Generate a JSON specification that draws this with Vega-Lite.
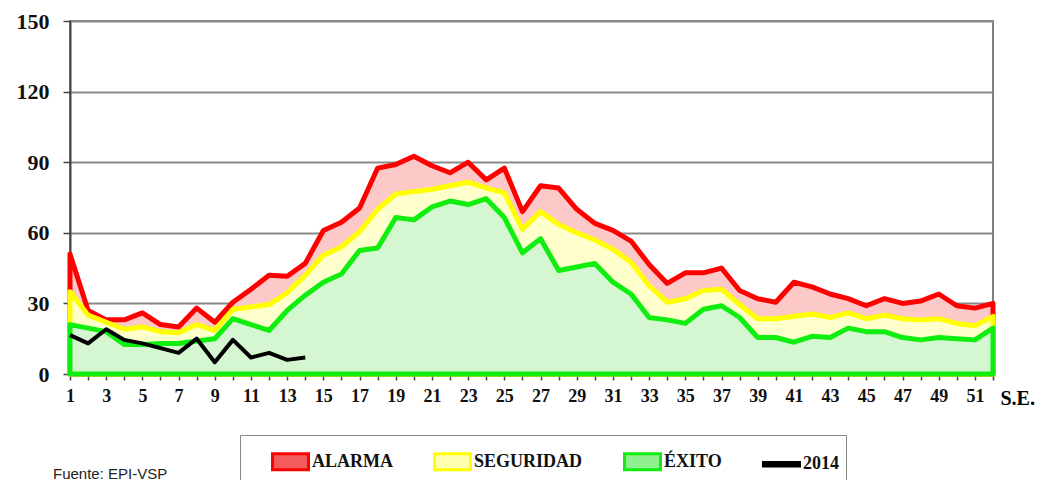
{
  "$schema": "https://vega.github.io/schema/vega-lite/v6.json",
  "width": 923,
  "height": 353,
  "autosize": {"type": "none"},
  "padding": {"left": 70, "top": 21, "right": 52, "bottom": 106},
  "background": "white",
  "config": {
    "view": {"stroke": "#808080", "strokeWidth": 2},
    "font": "Liberation Serif",
    "axisX": {"titleFontWeight": "bold", "titleFont": "Liberation Serif"}
  },
  "title": {
    "text": "Fuente: EPI-VSP",
    "orient": "bottom",
    "anchor": "start",
    "frame": "group",
    "font": "Liberation Sans",
    "fontSize": 15,
    "fontWeight": "normal",
    "color": "#222",
    "dx": -17,
    "offset": -17
  },
  "data": {
    "values": [
      {"s":"ALARMA","w":1,"v":51},{"s":"ALARMA","w":2,"v":27},{"s":"ALARMA","w":3,"v":23},{"s":"ALARMA","w":4,"v":23},{"s":"ALARMA","w":5,"v":26},{"s":"ALARMA","w":6,"v":21},{"s":"ALARMA","w":7,"v":20},{"s":"ALARMA","w":8,"v":28},{"s":"ALARMA","w":9,"v":22},{"s":"ALARMA","w":10,"v":30.5},
      {"s":"ALARMA","w":11,"v":36},{"s":"ALARMA","w":12,"v":42},{"s":"ALARMA","w":13,"v":41.5},{"s":"ALARMA","w":14,"v":47},{"s":"ALARMA","w":15,"v":61},{"s":"ALARMA","w":16,"v":64.5},{"s":"ALARMA","w":17,"v":70.5},{"s":"ALARMA","w":18,"v":87.5},{"s":"ALARMA","w":19,"v":89},{"s":"ALARMA","w":20,"v":92.5},
      {"s":"ALARMA","w":21,"v":88.5},{"s":"ALARMA","w":22,"v":85.5},{"s":"ALARMA","w":23,"v":90},{"s":"ALARMA","w":24,"v":82.5},{"s":"ALARMA","w":25,"v":87.5},{"s":"ALARMA","w":26,"v":69},{"s":"ALARMA","w":27,"v":80},{"s":"ALARMA","w":28,"v":79},{"s":"ALARMA","w":29,"v":70},{"s":"ALARMA","w":30,"v":64},
      {"s":"ALARMA","w":31,"v":61},{"s":"ALARMA","w":32,"v":56.5},{"s":"ALARMA","w":33,"v":46.5},{"s":"ALARMA","w":34,"v":38.5},{"s":"ALARMA","w":35,"v":43},{"s":"ALARMA","w":36,"v":43},{"s":"ALARMA","w":37,"v":45},{"s":"ALARMA","w":38,"v":35.5},{"s":"ALARMA","w":39,"v":32},{"s":"ALARMA","w":40,"v":30.5},
      {"s":"ALARMA","w":41,"v":39},{"s":"ALARMA","w":42,"v":37},{"s":"ALARMA","w":43,"v":34},{"s":"ALARMA","w":44,"v":32},{"s":"ALARMA","w":45,"v":29},{"s":"ALARMA","w":46,"v":32},{"s":"ALARMA","w":47,"v":30},{"s":"ALARMA","w":48,"v":31},{"s":"ALARMA","w":49,"v":34},{"s":"ALARMA","w":50,"v":29},
      {"s":"ALARMA","w":51,"v":28},{"s":"ALARMA","w":52,"v":30},
      {"s":"SEGURIDAD","w":1,"v":35},{"s":"SEGURIDAD","w":2,"v":25},{"s":"SEGURIDAD","w":3,"v":22},{"s":"SEGURIDAD","w":4,"v":19},{"s":"SEGURIDAD","w":5,"v":20},{"s":"SEGURIDAD","w":6,"v":18},{"s":"SEGURIDAD","w":7,"v":17.5},{"s":"SEGURIDAD","w":8,"v":21},{"s":"SEGURIDAD","w":9,"v":18.5},{"s":"SEGURIDAD","w":10,"v":27.5},
      {"s":"SEGURIDAD","w":11,"v":28.5},{"s":"SEGURIDAD","w":12,"v":29.5},{"s":"SEGURIDAD","w":13,"v":34.5},{"s":"SEGURIDAD","w":14,"v":42},{"s":"SEGURIDAD","w":15,"v":50.5},{"s":"SEGURIDAD","w":16,"v":54},{"s":"SEGURIDAD","w":17,"v":60.5},{"s":"SEGURIDAD","w":18,"v":70},{"s":"SEGURIDAD","w":19,"v":76.5},{"s":"SEGURIDAD","w":20,"v":77.5},
      {"s":"SEGURIDAD","w":21,"v":78.5},{"s":"SEGURIDAD","w":22,"v":80},{"s":"SEGURIDAD","w":23,"v":81.5},{"s":"SEGURIDAD","w":24,"v":79},{"s":"SEGURIDAD","w":25,"v":77},{"s":"SEGURIDAD","w":26,"v":61.5},{"s":"SEGURIDAD","w":27,"v":69},{"s":"SEGURIDAD","w":28,"v":63.5},{"s":"SEGURIDAD","w":29,"v":60},{"s":"SEGURIDAD","w":30,"v":57},
      {"s":"SEGURIDAD","w":31,"v":53},{"s":"SEGURIDAD","w":32,"v":47.5},{"s":"SEGURIDAD","w":33,"v":37.5},{"s":"SEGURIDAD","w":34,"v":30.5},{"s":"SEGURIDAD","w":35,"v":32},{"s":"SEGURIDAD","w":36,"v":35.5},{"s":"SEGURIDAD","w":37,"v":36},{"s":"SEGURIDAD","w":38,"v":29.5},{"s":"SEGURIDAD","w":39,"v":23.5},{"s":"SEGURIDAD","w":40,"v":23.5},
      {"s":"SEGURIDAD","w":41,"v":24.5},{"s":"SEGURIDAD","w":42,"v":25.5},{"s":"SEGURIDAD","w":43,"v":24},{"s":"SEGURIDAD","w":44,"v":26},{"s":"SEGURIDAD","w":45,"v":23.5},{"s":"SEGURIDAD","w":46,"v":25},{"s":"SEGURIDAD","w":47,"v":23.5},{"s":"SEGURIDAD","w":48,"v":23},{"s":"SEGURIDAD","w":49,"v":23.5},{"s":"SEGURIDAD","w":50,"v":21.5},
      {"s":"SEGURIDAD","w":51,"v":20.5},{"s":"SEGURIDAD","w":52,"v":24.5},
      {"s":"ÉXITO","w":1,"v":21},{"s":"ÉXITO","w":2,"v":19.5},{"s":"ÉXITO","w":3,"v":18},{"s":"ÉXITO","w":4,"v":12.5},{"s":"ÉXITO","w":5,"v":12.5},{"s":"ÉXITO","w":6,"v":13},{"s":"ÉXITO","w":7,"v":13},{"s":"ÉXITO","w":8,"v":14},{"s":"ÉXITO","w":9,"v":15},{"s":"ÉXITO","w":10,"v":23.5},
      {"s":"ÉXITO","w":11,"v":21},{"s":"ÉXITO","w":12,"v":18.5},{"s":"ÉXITO","w":13,"v":27},{"s":"ÉXITO","w":14,"v":33.5},{"s":"ÉXITO","w":15,"v":39},{"s":"ÉXITO","w":16,"v":42.5},{"s":"ÉXITO","w":17,"v":52.5},{"s":"ÉXITO","w":18,"v":53.5},{"s":"ÉXITO","w":19,"v":66.5},{"s":"ÉXITO","w":20,"v":65.5},
      {"s":"ÉXITO","w":21,"v":71},{"s":"ÉXITO","w":22,"v":73.5},{"s":"ÉXITO","w":23,"v":72},{"s":"ÉXITO","w":24,"v":74.5},{"s":"ÉXITO","w":25,"v":66.5},{"s":"ÉXITO","w":26,"v":51.5},{"s":"ÉXITO","w":27,"v":57.5},{"s":"ÉXITO","w":28,"v":44},{"s":"ÉXITO","w":29,"v":45.5},{"s":"ÉXITO","w":30,"v":47},
      {"s":"ÉXITO","w":31,"v":39},{"s":"ÉXITO","w":32,"v":34},{"s":"ÉXITO","w":33,"v":24},{"s":"ÉXITO","w":34,"v":23},{"s":"ÉXITO","w":35,"v":21.5},{"s":"ÉXITO","w":36,"v":27.5},{"s":"ÉXITO","w":37,"v":29},{"s":"ÉXITO","w":38,"v":24},{"s":"ÉXITO","w":39,"v":15.5},{"s":"ÉXITO","w":40,"v":15.5},
      {"s":"ÉXITO","w":41,"v":13.5},{"s":"ÉXITO","w":42,"v":16},{"s":"ÉXITO","w":43,"v":15.5},{"s":"ÉXITO","w":44,"v":19.5},{"s":"ÉXITO","w":45,"v":18},{"s":"ÉXITO","w":46,"v":18},{"s":"ÉXITO","w":47,"v":15.5},{"s":"ÉXITO","w":48,"v":14.5},{"s":"ÉXITO","w":49,"v":15.5},{"s":"ÉXITO","w":50,"v":15},
      {"s":"ÉXITO","w":51,"v":14.5},{"s":"ÉXITO","w":52,"v":19.5},
      {"s":"2014","w":1,"v":16.5},{"s":"2014","w":2,"v":13},{"s":"2014","w":3,"v":19},{"s":"2014","w":4,"v":14.5},{"s":"2014","w":5,"v":13},{"s":"2014","w":6,"v":11},{"s":"2014","w":7,"v":9},{"s":"2014","w":8,"v":15},{"s":"2014","w":9,"v":5},{"s":"2014","w":10,"v":14.5},
      {"s":"2014","w":11,"v":7},{"s":"2014","w":12,"v":9},{"s":"2014","w":13,"v":6},{"s":"2014","w":14,"v":7}
    ]
  },
  "encoding": {
    "x": {
      "field": "w",
      "type": "quantitative",
      "scale": {"domain": [1, 52], "nice": false, "zero": false},
      "axis": {
        "values": [1,2,3,4,5,6,7,8,9,10,11,12,13,14,15,16,17,18,19,20,21,22,23,24,25,26,27,28,29,30,31,32,33,34,35,36,37,38,39,40,41,42,43,44,45,46,47,48,49,50,51,52],
        "labelExpr": "datum.value % 2 == 1 ? datum.label : ''",
        "labelOverlap": false,
        "labelFlush": false,
        "labelFont": "Liberation Serif",
        "labelFontSize": 18,
        "labelFontWeight": "bold",
        "labelColor": "#111",
        "labelPadding": 7,
        "tickSize": 6,
        "tickColor": "#444",
        "tickWidth": 1.5,
        "domain": false,
        "grid": false,
        "title": "S.E.",
        "titleX": 930,
        "titleY": 30,
        "titleAlign": "left",
        "titleBaseline": "alphabetic",
        "titleAnchor": null,
        "titleFont": "Liberation Serif",
        "titleFontSize": 20,
        "titleFontWeight": "bold",
        "titleColor": "#000"
      }
    },
    "y": {
      "field": "v",
      "type": "quantitative",
      "stack": null,
      "scale": {"domain": [0, 150], "nice": false},
      "axis": {
        "values": [0, 30, 60, 90, 120, 150],
        "grid": true,
        "gridColor": "#8a8a8a",
        "gridWidth": 2,
        "domain": true,
        "domainColor": "#444",
        "domainWidth": 2,
        "tickSize": 7,
        "tickColor": "#444",
        "tickWidth": 1.5,
        "labelFont": "Liberation Serif",
        "labelFontSize": 22,
        "labelFontWeight": "bold",
        "labelColor": "#111",
        "labelPadding": 14,
        "title": null
      }
    },
    "stroke": {
      "field": "s",
      "type": "nominal",
      "scale": {
        "domain": ["ALARMA", "SEGURIDAD", "ÉXITO", "2014"],
        "range": ["#ff0000", "#ffff00", "#10ee10", "#000000"]
      },
      "legend": {
        "orient": "none",
        "legendX": 170,
        "legendY": 414,
        "direction": "horizontal",
        "columns": 4,
        "title": " ",
        "titleOrient": "left",
        "titleFontSize": 1,
        "titlePadding": 24,
        "padding": 7,
        "strokeColor": "#888",
        "symbolSize": 1296,
        "symbolStrokeWidth": 3,
        "labelFont": "Liberation Serif",
        "labelFontSize": 18,
        "labelFontWeight": "bold",
        "labelColor": "#111",
        "labelOffset": 2,
        "columnPadding": 35,
        "encode": {
          "symbols": {
            "update": {
              "shape": {"signal": "datum.value === '2014' ? 'M-1,-0.1H1V0.1H-1Z' : 'M-1,-0.44H1V0.44H-1Z'"},
              "fill": {"signal": "datum.value === 'ALARMA' ? '#f45c5c' : datum.value === 'SEGURIDAD' ? '#ffffb0' : datum.value === 'ÉXITO' ? '#8ef08e' : '#000000'"},
              "fillOpacity": {"value": 1},
              "strokeWidth": {"value": 3},
              "opacity": {"value": 1}
            }
          }
        }
      }
    }
  },
  "layer": [
    {
      "transform": [{"filter": "datum.s === 'ALARMA'"}],
      "mark": {"type": "area", "fill": "#fcc8c8", "strokeWidth": 5, "strokeJoin": "round"}
    },
    {
      "transform": [{"filter": "datum.s === 'SEGURIDAD'"}],
      "mark": {"type": "area", "fill": "#ffffcc", "strokeWidth": 5, "strokeJoin": "round"}
    },
    {
      "transform": [{"filter": "datum.s === 'ÉXITO'"}],
      "mark": {"type": "area", "fill": "#d4f6d0", "strokeWidth": 5, "strokeJoin": "round"}
    },
    {
      "transform": [{"filter": "datum.s === '2014'"}],
      "mark": {"type": "line", "strokeWidth": 4, "strokeJoin": "round"}
    }
  ]
}
